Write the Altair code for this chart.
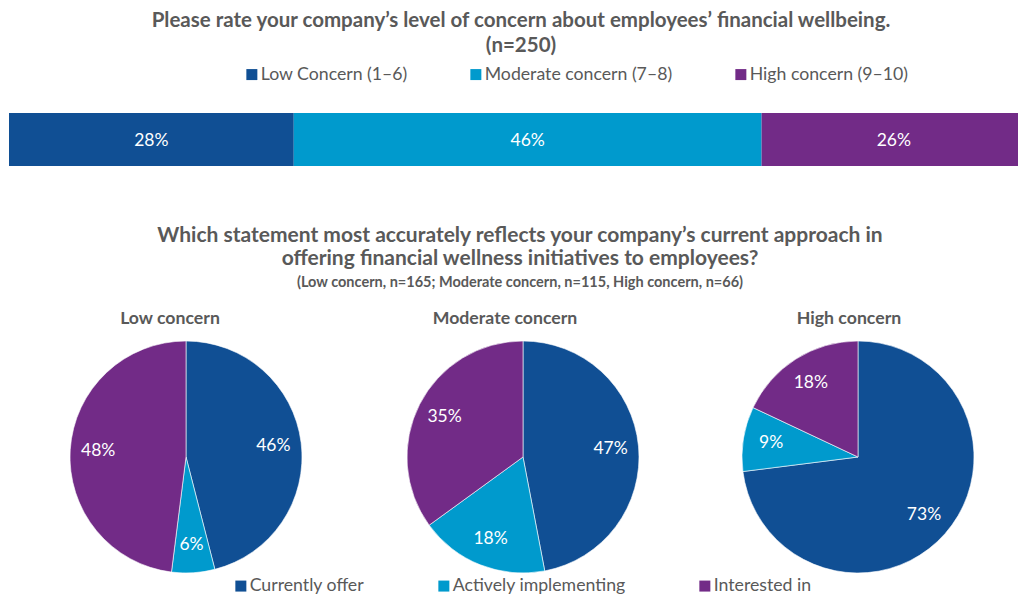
import altair as alt
import pandas as pd

FONT = "Lato"
GREY = "#595959"

# ---------------- data ----------------
concern_levels = ["Low Concern (1–6)", "Moderate concern (7–8)", "High concern (9–10)"]
concern_pct = [28, 46, 26]
concern_colors = ["#104F94", "#009ACD", "#722B87"]

approaches = ["Currently offer", "Actively implementing", "Interested in"]
approach_colors = ["#104F94", "#009ACD", "#722B87"]

pie_groups = ["Low concern", "Moderate concern", "High concern"]
low_pct = [46, 6, 48]
moderate_pct = [47, 18, 35]
high_pct = [73, 9, 18]

title1 = "Please rate your company’s level of concern about employees’ financial wellbeing."
title1_sub = "(n=250)"
title2_line1 = "Which statement most accurately reflects your company’s current approach in"
title2_line2 = "offering financial wellness initiatives to employees?"
title2_sub = "(Low concern, n=165; Moderate concern, n=115, High concern, n=66)"

W, H = 1010, 587


def text_layer(txt, x, y, size, weight="bold", color=GREY, align="center"):
    return alt.Chart(pd.DataFrame({"t": [txt]})).mark_text(
        font=FONT, fontSize=size, fontWeight=weight, color=color, align=align, baseline="middle"
    ).encode(text="t:N", x=alt.value(x), y=alt.value(y))


layers = []

# titles
layers.append(text_layer(title1, 513, 12.5, 20.5))
layers.append(text_layer(title1_sub, 513, 37.5, 20.5))
layers.append(text_layer(title2_line1, 512, 228, 21))
layers.append(text_layer(title2_line2, 512, 251, 21))
layers.append(text_layer(title2_sub, 512, 275, 14.5))

# top bar
bar_df = pd.DataFrame({"level": concern_levels, "pct": concern_pct, "idx": [0, 1, 2]})
bar_base = alt.Chart(bar_df).transform_stack(
    stack="pct", groupby=[], as_=["x0", "x1"], sort=[alt.SortField("idx")]
).transform_calculate(
    mid="(datum.x0 + datum.x1) / 2", label="datum.pct + '%'"
)
# the bar in the reference runs past the right edge of the picture
xscale = alt.Scale(domain=[0, 100], nice=False, zero=False, range=[1, 1018])
bar = bar_base.mark_bar().encode(
    x=alt.X("x0:Q", scale=xscale, axis=None),
    x2="x1:Q",
    y=alt.value(105),
    y2=alt.value(158),
    color=alt.Color(
        "level:N",
        scale=alt.Scale(domain=concern_levels, range=concern_colors),
        legend=alt.Legend(
            orient="none", legendX=235, legendY=57.5, direction="horizontal", title=None,
            labelFont=FONT, labelFontSize=17.7, labelColor=GREY, labelLimit=400,
            symbolType="square", symbolSize=121, symbolStrokeWidth=0, symbolOpacity=1,
            columnPadding=59, labelOffset=0, padding=0,
        ),
    ),
)
bar_txt = bar_base.mark_text(font=FONT, fontSize=17.5, color="white", baseline="middle").encode(
    x=alt.X("mid:Q", scale=xscale, axis=None),
    y=alt.value(133),
    text="label:N",
)
layers += [bar, bar_txt]

# pies
CY = 449
R = 116
pie_centers = [178, 515, 850]
pie_title_x = [162, 497, 841]
for gi, (grp, vals) in enumerate(zip(pie_groups, [low_pct, moderate_pct, high_pct])):
    df = pd.DataFrame({"approach": approaches, "pct": vals, "idx": [0, 1, 2]})
    base = alt.Chart(df).transform_calculate(label="datum.pct + '%'").encode(
        theta=alt.Theta("pct:Q", stack=True),
        order=alt.Order("idx:Q"),
        x=alt.value(pie_centers[gi]),
        y=alt.value(CY),
    )
    legend = None
    if gi == 0:
        legend = alt.Legend(
            orient="none", legendX=224, legendY=569, direction="horizontal", title=None,
            labelFont=FONT, labelFontSize=17.7, labelColor=GREY, labelLimit=400,
            symbolType="square", symbolSize=121, symbolStrokeWidth=0, symbolOpacity=1,
            columnPadding=70, labelOffset=0, padding=0,
        )
    arc = base.mark_arc(outerRadius=R, stroke="white", strokeWidth=0.6).encode(
        color=alt.Color(
            "approach:N",
            scale=alt.Scale(domain=approaches, range=approach_colors),
            legend=legend,
        )
    )
    lbl = base.mark_text(radius=88, font=FONT, fontSize=17.5, color="white", baseline="middle").encode(
        text="label:N"
    )
    layers += [arc, lbl]
    layers.append(text_layer(grp, pie_title_x[gi], 311, 17.7))

chart = alt.layer(*layers).resolve_scale(color="independent").properties(
    width=W, height=H, padding=0, autosize="none"
).configure_view(stroke=None)

chart.save("out.html", embed_options={"renderer": "svg", "actions": False})
